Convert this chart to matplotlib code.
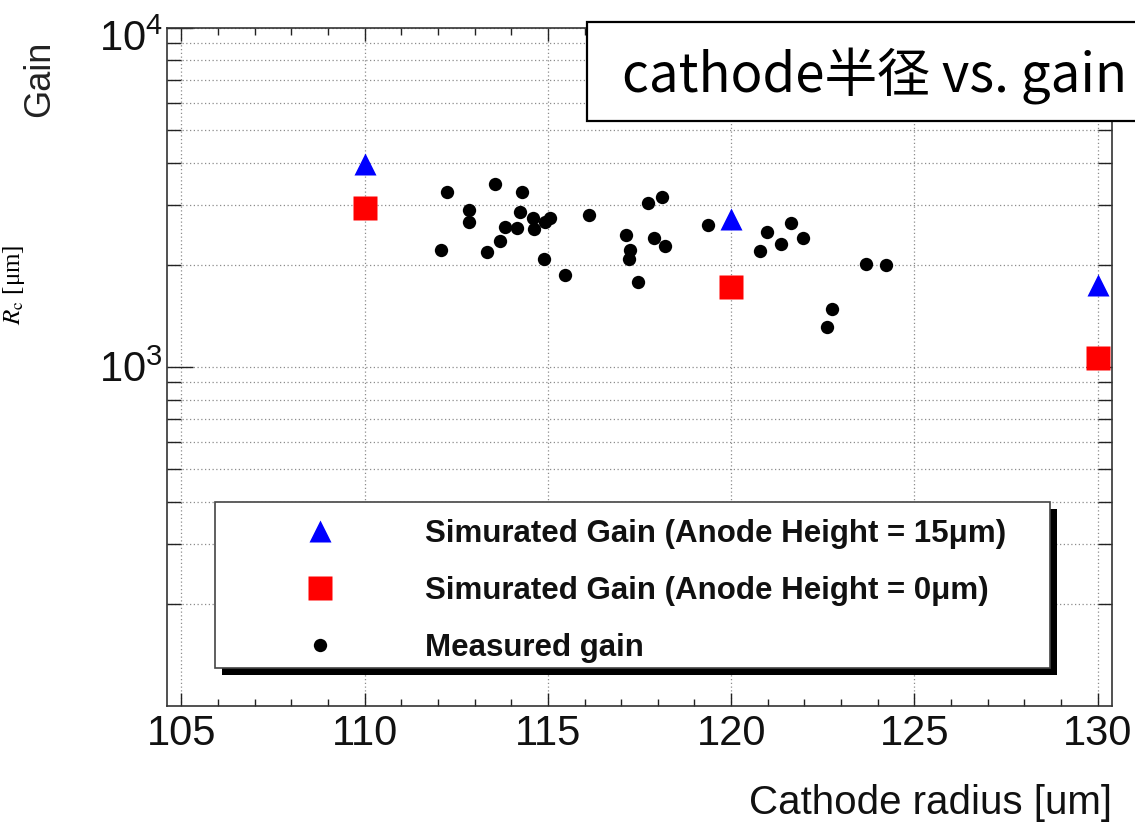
import matplotlib
matplotlib.use("Agg")
import matplotlib.pyplot as plt
from matplotlib import font_manager
from matplotlib.patches import Rectangle
from matplotlib.ticker import FixedLocator, FixedFormatter, NullFormatter
from matplotlib.transforms import offset_copy

# simulated gains at three cathode radii
sim_x = [110, 120, 130]
sim_gain_15um = [3950, 2720, 1740]
sim_gain_0um = [2940, 1715, 1060]

# measured gains
meas_x = [112.24, 113.56, 114.29, 112.86, 112.86, 112.08, 113.33, 113.69, 113.83,
          114.17, 114.24, 114.60, 114.62, 114.92, 115.06, 114.89, 115.47, 116.13,
          117.74, 118.10, 117.13, 117.24, 117.22, 117.89, 118.19, 117.47, 119.38,
          120.99, 121.62, 120.80, 121.35, 121.97, 123.68, 124.22, 122.74, 122.62]
meas_gain = [3280, 3450, 3280, 2890, 2670, 2210, 2180, 2350, 2590,
             2570, 2850, 2750, 2545, 2670, 2750, 2080, 1870, 2810,
             3030, 3160, 2440, 2210, 2080, 2400, 2270, 1780, 2615,
             2500, 2655, 2195, 2300, 2390, 2015, 1990, 1485, 1310]

labels = ["Simurated Gain (Anode Height = 15\u03bcm)",
          "Simurated Gain (Anode Height = 0\u03bcm)",
          "Measured gain"]
x_ticks = [105, 110, 115, 120, 125, 130]
y_ticks = [1e3, 1e4]
y_tick_labels = [r"$\mathregular{10^{3}}$", r"$\mathregular{10^{4}}$"]
y_minor = [200, 300, 400, 500, 600, 700, 800, 900,
           2000, 3000, 4000, 5000, 6000, 7000, 8000, 9000]

installed = {f.name for f in font_manager.fontManager.ttflist}
SANS = "Liberation Sans Narrow" if "Liberation Sans Narrow" in installed else "Liberation Sans"
plt.rcParams["font.family"] = [SANS, "DejaVu Sans"]
plt.rcParams["mathtext.fontset"] = "stix"

fig = plt.figure(figsize=(11.35, 8.22), dpi=100)
ax = fig.add_axes([0.1469, 0.1411, 0.8331, 0.8254])

ax.plot(sim_x, sim_gain_15um, ls="none", marker="^", ms=16.3, color="#0000ff",
        mec="none", label=labels[0], zorder=4)
ax.plot(sim_x, sim_gain_0um, ls="none", marker="s", ms=17.0, color="#ff0000",
        mec="none", label=labels[1], zorder=4)
ax.plot(meas_x, meas_gain, ls="none", marker="o", ms=9.6, color="black",
        mec="none", label=labels[2], zorder=4)

ax.set_yscale("log")
ax.set_xlim(104.6, 130.4)
ax.set_ylim(100, 1e4)

ax.xaxis.set_major_locator(FixedLocator(x_ticks))
ax.xaxis.set_minor_locator(FixedLocator(range(105, 131)))
ax.yaxis.set_major_locator(FixedLocator(y_ticks))
ax.yaxis.set_major_formatter(FixedFormatter(y_tick_labels))
ax.yaxis.set_minor_locator(FixedLocator(y_minor))
ax.yaxis.set_minor_formatter(NullFormatter())

ax.tick_params(axis="x", which="major", direction="in", top=True, length=9.5,
               width=1.0, labelsize=30, pad=6, colors="#222222")
ax.tick_params(axis="x", which="minor", direction="in", top=True, length=5,
               width=1.0, colors="#222222")
ax.tick_params(axis="y", which="major", direction="in", right=True, length=19,
               width=1.0, labelsize=30, pad=3, colors="#222222")
ax.tick_params(axis="y", which="minor", direction="in", right=True, length=10,
               width=1.0, colors="#222222")
for lab in ax.get_xticklabels() + ax.get_yticklabels():
    lab.set_color("#111111")
# ROOT pushes the top label down a little
top_lab = ax.yaxis.get_major_ticks()[1].label1
top_lab.set_transform(offset_copy(top_lab.get_transform(), fig=fig, y=-8, units="dots"))

ax.grid(True, axis="x", which="major", ls=(0, (1, 2)), lw=0.9, color="#8c8c8c")
ax.grid(True, axis="y", which="both", ls=(0, (1, 2)), lw=0.9, color="#8c8c8c")
ax.set_axisbelow(True)
for sp in ax.spines.values():
    sp.set_linewidth(1.2)
    sp.set_color("#333333")

# legend frame with a ROOT style black shadow
ax.add_patch(Rectangle((0.058, 0.046), 0.883, 0.245, transform=ax.transAxes,
                       facecolor="black", edgecolor="none", zorder=5))
ax.add_patch(Rectangle((0.0511, 0.056), 0.883, 0.2447, transform=ax.transAxes,
                       facecolor="white", edgecolor="#444444", lw=1.2, zorder=6))
leg = ax.legend(loc="upper left", bbox_to_anchor=(0.129, 0.275), frameon=False,
                prop={"family": [SANS, "DejaVu Sans"], "weight": "bold", "size": 22.5},
                numpoints=1, handlelength=2.0, handletextpad=2.35, labelspacing=0.86,
                borderpad=0, borderaxespad=0)
leg.set_zorder(7)
for t in leg.get_texts():
    t.set_color("#111111")

ax.set_xlabel("Cathode radius [um]", fontsize=29, loc="right", labelpad=21,
              color="#111111")
fig.text(0.035, 0.951, "Gain", rotation=90, ha="center", va="top", fontsize=26,
         color="#222222")
fig.text(0.012, 0.653, "$R_{\\mathrm{c}}$ [\u03bcm]", rotation=90, ha="center",
         va="center", fontsize=18, family=["Liberation Serif", "DejaVu Serif"])

# title box
fig.patches.append(Rectangle((0.517, 0.8528), 0.6, 0.1204, transform=fig.transFigure,
                             facecolor="white", edgecolor="black", lw=1.6, zorder=10,
                             figure=fig))
fig.text(0.548, 0.907, "cathode半径 vs. gain", ha="left", va="center", fontsize=38,
         family=["Noto Sans CJK JP", "DejaVu Sans"], zorder=11)

fig.savefig("out.png", dpi=100)
